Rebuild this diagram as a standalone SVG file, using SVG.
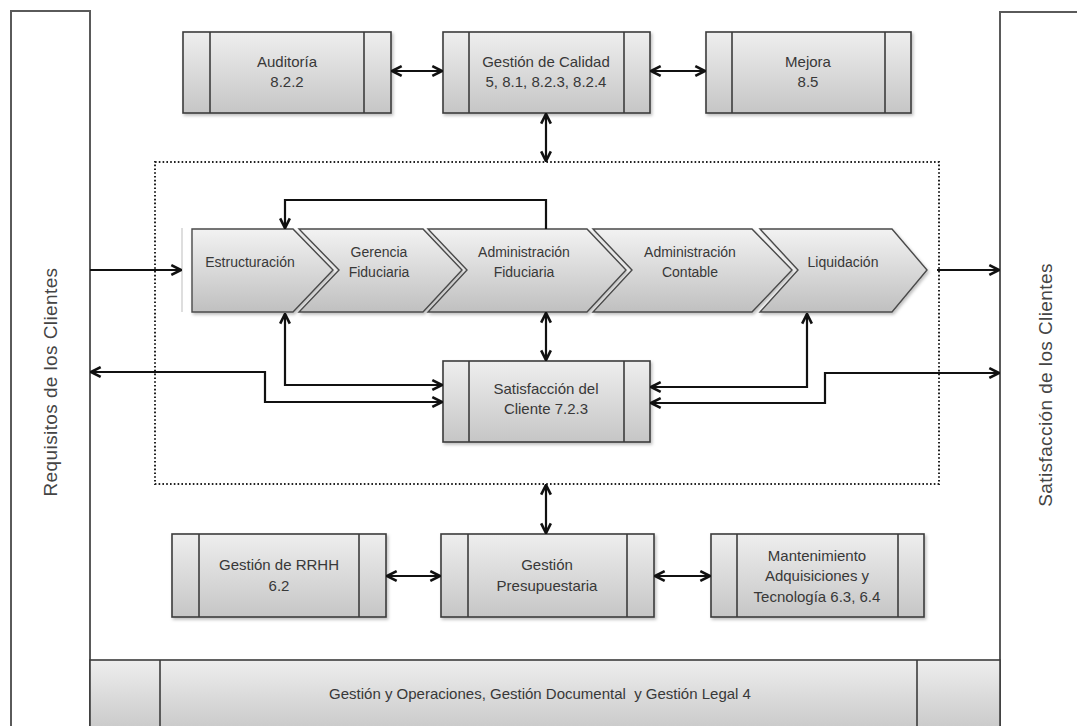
<svg xmlns="http://www.w3.org/2000/svg" width="1077" height="726" viewBox="0 0 1077 726">
  <defs>
    <linearGradient id="boxFill" x1="0" y1="0" x2="0" y2="1">
      <stop offset="0" stop-color="#eeeeee"/>
      <stop offset="1" stop-color="#c6c6c6"/>
    </linearGradient>
    <linearGradient id="chevFill" x1="0" y1="0" x2="0" y2="1">
      <stop offset="0" stop-color="#f2f2f2"/>
      <stop offset="1" stop-color="#c0c0c0"/>
    </linearGradient>
    <marker id="arrow" viewBox="0 0 10 10" refX="9" refY="5" markerWidth="5.5" markerHeight="5.5" markerUnits="strokeWidth" orient="auto-start-reverse">
      <path d="M1,1 L9,5 L1,9" fill="none" stroke="#111" stroke-width="2.2"/>
    </marker>
    <filter id="shadow" x="-5%" y="-5%" width="115%" height="130%">
      <feDropShadow dx="1.5" dy="2" stdDeviation="1.5" flood-color="#000" flood-opacity="0.25"/>
    </filter>
  </defs>
  <style>
    .frame { fill: #ffffff; stroke: #5a5a5a; stroke-width: 2; }
    .box { fill: url(#boxFill); stroke: #3c3c3c; stroke-width: 1.6; filter: url(#shadow); }
    .div { stroke: #3c3c3c; stroke-width: 1.6; }
    .chev { fill: url(#chevFill); stroke: #4a4a4a; stroke-width: 1.4; filter: url(#shadow); }
    .lbl { font-family: "Liberation Sans", Arial, sans-serif; font-size: 15px; fill: #383838; text-anchor: middle; }
    .clbl { font-family: "Liberation Sans", Arial, sans-serif; font-size: 14px; fill: #383838; text-anchor: middle; }
    .side { font-family: "Liberation Sans", Arial, sans-serif; font-size: 19px; letter-spacing: 0.4px; fill: #444; text-anchor: middle; }
    .conn { fill: none; stroke: #111; stroke-width: 2.2; }
    .dots { fill: none; stroke: #222; stroke-width: 2; stroke-dasharray: 1.6 2.2; }
  </style>

  <rect width="1077" height="726" fill="#ffffff"/>

  <!-- side bars -->
  <g id="requisitos">
    <rect class="frame" x="11" y="11" width="79" height="725"/>
    <text class="side" transform="translate(57,382) rotate(-90)">Requisitos de los Clientes</text>
  </g>
  <g id="satisfaccion-clientes">
    <rect class="frame" x="1000" y="12" width="90" height="725"/>
    <text class="side" transform="translate(1052,385) rotate(-90)">Satisfacción de los Clientes</text>
  </g>

  <!-- bottom support band -->
  <g id="gestion-operaciones">
    <rect x="90" y="660" width="910" height="76" fill="url(#boxFill)" stroke="#3c3c3c" stroke-width="1.6"/>
    <line class="div" x1="160" y1="660" x2="160" y2="726"/>
    <line class="div" x1="917" y1="660" x2="917" y2="726"/>
    <text class="lbl" x="540" y="699" xml:space="preserve">Gestión y Operaciones, Gestión Documental  y Gestión Legal 4</text>
  </g>

  <!-- process boundary -->
  <rect id="proceso" class="dots" x="155" y="162" width="784" height="322"/>

  <!-- top row -->
  <g id="auditoria">
    <rect class="box" x="183" y="32" width="208" height="81"/>
    <line class="div" x1="210" y1="32" x2="210" y2="113"/>
    <line class="div" x1="364" y1="32" x2="364" y2="113"/>
    <text class="lbl" x="287" y="67">Auditoría</text>
    <text class="lbl" x="287" y="87">8.2.2</text>
  </g>
  <g id="gestion-calidad">
    <rect class="box" x="443" y="32" width="207" height="81"/>
    <line class="div" x1="469" y1="32" x2="469" y2="113"/>
    <line class="div" x1="624" y1="32" x2="624" y2="113"/>
    <text class="lbl" x="546" y="67">Gestión de Calidad</text>
    <text class="lbl" x="546" y="87">5, 8.1, 8.2.3, 8.2.4</text>
  </g>
  <g id="mejora">
    <rect class="box" x="706" y="32" width="205" height="81"/>
    <line class="div" x1="732" y1="32" x2="732" y2="113"/>
    <line class="div" x1="885" y1="32" x2="885" y2="113"/>
    <text class="lbl" x="808" y="67">Mejora</text>
    <text class="lbl" x="808" y="87">8.5</text>
  </g>

  <!-- value chain -->
  <line x1="182" y1="228" x2="182" y2="312" stroke="#bdbdbd" stroke-width="1"/>
  <g id="estructuracion">
    <path class="chev" d="M192,229 L293,229 L333,270 L293,312 L192,312 Z"/>
    <text class="clbl" x="250" y="267">Estructuración</text>
  </g>
  <g id="gerencia-fiduciaria">
    <path class="chev" d="M299,229 L423,229 L462,270 L423,312 L299,312 L339,270 Z"/>
    <text class="clbl" x="379" y="257">Gerencia</text>
    <text class="clbl" x="379" y="277">Fiduciaria</text>
  </g>
  <g id="administracion-fiduciaria">
    <path class="chev" d="M428,229 L587,229 L626,270 L587,312 L428,312 L467,270 Z"/>
    <text class="clbl" x="524" y="257">Administración</text>
    <text class="clbl" x="524" y="277">Fiduciaria</text>
  </g>
  <g id="administracion-contable">
    <path class="chev" d="M593,229 L752,229 L792,270 L752,312 L593,312 L632,270 Z"/>
    <text class="clbl" x="690" y="257">Administración</text>
    <text class="clbl" x="690" y="277">Contable</text>
  </g>
  <g id="liquidacion">
    <path class="chev" d="M760,229 L892,229 L927,270 L892,312 L760,312 L798,270 Z"/>
    <text class="clbl" x="843" y="267">Liquidación</text>
  </g>

  <!-- customer satisfaction -->
  <g id="satisfaccion-cliente">
    <rect class="box" x="443" y="361" width="207" height="81"/>
    <line class="div" x1="469" y1="361" x2="469" y2="442"/>
    <line class="div" x1="624" y1="361" x2="624" y2="442"/>
    <text class="lbl" x="546" y="394">Satisfacción del</text>
    <text class="lbl" x="546" y="414">Cliente 7.2.3</text>
  </g>

  <!-- bottom row -->
  <g id="gestion-rrhh">
    <rect class="box" x="172" y="534" width="214" height="83"/>
    <line class="div" x1="199" y1="534" x2="199" y2="617"/>
    <line class="div" x1="359" y1="534" x2="359" y2="617"/>
    <text class="lbl" x="279" y="570">Gestión de RRHH</text>
    <text class="lbl" x="279" y="591">6.2</text>
  </g>
  <g id="gestion-presupuestaria">
    <rect class="box" x="441" y="534" width="213" height="83"/>
    <line class="div" x1="468" y1="534" x2="468" y2="617"/>
    <line class="div" x1="627" y1="534" x2="627" y2="617"/>
    <text class="lbl" x="547" y="570">Gestión</text>
    <text class="lbl" x="547" y="591">Presupuestaria</text>
  </g>
  <g id="mantenimiento">
    <rect class="box" x="711" y="534" width="213" height="83"/>
    <line class="div" x1="737" y1="534" x2="737" y2="617"/>
    <line class="div" x1="898" y1="534" x2="898" y2="617"/>
    <text class="lbl" x="817" y="561">Mantenimiento</text>
    <text class="lbl" x="817" y="581">Adquisiciones y</text>
    <text class="lbl" x="817" y="602">Tecnología 6.3, 6.4</text>
  </g>

  <!-- connectors -->
  <g id="connectors">
    <path class="conn" d="M392,71 H442" marker-start="url(#arrow)" marker-end="url(#arrow)"/>
    <path class="conn" d="M651,71 H705" marker-start="url(#arrow)" marker-end="url(#arrow)"/>
    <path class="conn" d="M546,114 V161" marker-start="url(#arrow)" marker-end="url(#arrow)"/>
    <path class="conn" d="M546,229 V200 H285 V228" marker-end="url(#arrow)"/>
    <path class="conn" d="M90,270 H181" marker-end="url(#arrow)"/>
    <path class="conn" d="M937,270 H999" marker-end="url(#arrow)"/>
    <path class="conn" d="M546,313 V360" marker-start="url(#arrow)" marker-end="url(#arrow)"/>
    <path class="conn" d="M285,314 V385 H442" marker-start="url(#arrow)" marker-end="url(#arrow)"/>
    <path class="conn" d="M91,372 H265 V402 H442" marker-start="url(#arrow)" marker-end="url(#arrow)"/>
    <path class="conn" d="M807,314 V387 H651" marker-start="url(#arrow)" marker-end="url(#arrow)"/>
    <path class="conn" d="M999,373 H825 V403 H651" marker-start="url(#arrow)" marker-end="url(#arrow)"/>
    <path class="conn" d="M546,485 V533" marker-start="url(#arrow)" marker-end="url(#arrow)"/>
    <path class="conn" d="M387,576 H440" marker-start="url(#arrow)" marker-end="url(#arrow)"/>
    <path class="conn" d="M655,576 H710" marker-start="url(#arrow)" marker-end="url(#arrow)"/>
  </g>
</svg>
